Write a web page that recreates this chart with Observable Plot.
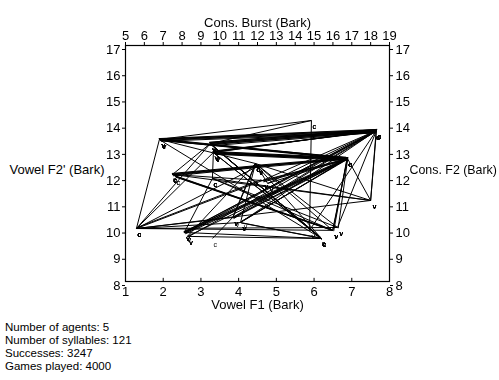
<!DOCTYPE html>
<html><head><meta charset="utf-8">
<script src="https://cdn.jsdelivr.net/npm/d3@7"></script>
<script src="https://cdn.jsdelivr.net/npm/@observablehq/plot@0.6"></script>
<style>
body{margin:0;background:#fff;font-family:"Liberation Sans",Arial,sans-serif;}
#cap{margin:6px 0 0 5px;font-size:11.5px;line-height:13px;color:#000}
#chart svg g[aria-label="text"]{opacity:0.99}
</style></head><body>
<div id="chart"></div>
<div id="cap"></div>
<script>
// Each syllable: vowel (F1, F2') and consonant (burst, F2), in Bark
const vowelF1 = [1.90,1.92,1.88,1.94,1.90,1.90,1.90,1.93,1.91,
  3.25,3.27,3.23,3.29,3.25,3.25,3.28,3.22,
  3.33,3.36,3.33,3.35,3.31,3.38,3.33,3.33,3.33,
  4.50,4.52,4.48,4.50,4.53,4.47,4.50,
  4.63,4.63,4.66,4.63,4.77,
  2.56,2.56,2.59,2.56,2.64,2.64,
  3.84,3.84,3.84,3.84,4.05,4.08,4.05,4.05,4.05,
  7.50,7.50,7.50,7.50,
  6.49,6.45,6.49,6.52,6.49,6.49,6.62,6.62,5.88,
  4.77,4.50,3.25,1.90,
  2.58,2.54,2.64,2.66,3.84,4.05,3.87,4.60,6.62,3.36,3.26,4.51,4.49,6.47,1.91,3.24,3.26,
  3.31,3.32,7.50,7.50,6.49,6.62,4.63,4.77,1.89,1.92,2.56,4.07,3.25,5.88,6.64,
  1.89,3.22,3.34,3.37,3.24,4.49,4.51,6.50,2.57,2.55,3.86,4.06,1.91,4.64,6.50,7.50,3.34,3.85];
const vowelF2 = [13.42,13.38,13.45,13.35,13.42,13.42,13.42,13.37,13.40,
  13.26,13.22,13.30,13.18,13.26,13.26,13.20,13.30,
  12.92,12.98,12.92,12.88,12.96,12.85,12.92,12.92,12.92,
  12.39,12.35,12.42,12.39,12.35,12.43,12.39,
  11.85,11.85,11.80,11.85,11.74,
  9.87,9.87,9.82,9.87,9.72,9.72,
  10.44,10.44,10.44,10.44,10.25,10.30,10.25,10.25,10.25,
  11.09,11.09,11.09,11.09,
  9.95,9.99,9.95,9.92,9.95,9.95,10.06,10.06,9.95,
  11.74,12.39,13.26,13.42,
  9.84,9.90,9.72,9.70,10.44,10.25,10.40,11.88,10.06,12.88,13.24,12.37,12.41,9.97,13.40,13.28,13.24,
  12.95,12.94,11.09,11.09,9.95,10.06,11.85,11.74,13.44,13.39,9.87,10.23,13.26,9.95,10.03,
  13.43,13.31,12.90,12.87,13.27,12.40,12.38,9.94,9.85,9.88,10.42,10.27,13.41,11.83,9.96,11.09,12.93,10.43];
const consBurst = [18.31,18.25,18.35,18.20,14.86,5.58,16.77,16.70,15.39,
  18.31,18.28,18.33,18.24,14.86,15.39,15.35,15.42,
  18.31,18.27,16.77,16.74,16.80,16.70,9.61,5.58,15.39,
  7.49,7.52,7.46,16.77,16.72,16.80,15.39,
  7.49,16.77,16.73,5.58,18.31,
  18.31,16.77,16.72,9.61,15.39,11.89,
  9.61,18.31,11.89,5.58,16.77,16.72,11.89,5.58,15.39,
  18.31,16.77,7.49,5.58,
  7.65,7.60,16.77,16.73,5.58,9.61,18.31,11.89,14.86,
  11.89,5.58,7.49,11.89,
  18.26,16.82,16.77,18.31,16.77,18.31,18.27,5.62,5.58,15.36,15.40,7.50,16.75,7.62,18.28,18.30,18.26,
  18.29,16.76,11.89,9.61,11.89,9.61,18.31,16.77,16.79,16.74,15.39,15.37,5.58,18.31,16.79,
  18.33,18.34,16.78,16.72,15.41,7.47,16.76,7.66,16.75,18.30,16.74,16.75,16.76,16.75,16.78,18.29,18.32,11.90];
const consF2 = [13.76,13.70,13.80,13.66,14.14,10.02,12.69,12.74,9.64,
  13.76,13.72,13.79,13.68,14.14,9.64,9.68,9.60,
  13.76,13.72,12.69,12.65,12.72,12.62,11.93,10.02,9.64,
  12.08,12.03,12.12,12.69,12.66,12.72,9.64,
  12.08,12.69,12.64,10.02,13.76,
  13.76,12.69,12.64,11.93,9.64,12.50,
  9.64,13.76,12.50,10.02,12.69,12.64,12.50,10.02,9.64,
  13.76,12.69,12.08,10.02,
  12.00,12.04,12.69,12.64,10.02,11.93,13.76,12.50,14.14,
  12.50,10.02,12.08,12.50,
  13.71,12.73,12.69,13.76,12.69,13.76,13.72,10.06,10.02,9.67,9.62,12.06,12.68,12.02,13.73,13.74,13.71,
  13.74,12.70,12.50,11.93,12.50,11.93,13.76,12.69,12.71,12.67,9.64,9.66,10.02,13.76,12.71,
  13.78,13.80,12.67,12.66,9.63,12.10,12.70,11.98,12.67,13.75,12.66,12.68,12.69,12.67,12.70,13.74,13.77,12.49];

const f1Ticks = [1,2,3,4,5,6,7,8];
const f2Ticks = [8,9,10,11,12,13,14,15,16,17];
const burstTicks = [5,6,7,8,9,10,11,12,13,14,15,16,17,18,19];
const captionLines = ["Number of agents: 5","Number of syllables: 121","Successes: 3247","Games played: 4000"];

const burstToF1 = d3.scaleLinear().domain([5,19]).range([1,8]);
const rows = vowelF1.map((_, i) => ({vx: vowelF1[i], vy: vowelF2[i], cx: burstToF1(consBurst[i]), cy: consF2[i]}));
// one marker per syllable end, snapped onto the first end point of its cluster
const snap = (arr, kx, ky) => {
  const first = new Map();
  return arr.map(r => {
    const k = Math.round(r[kx] * 8) + "," + Math.round(r[ky] * 6);
    if (!first.has(k)) first.set(k, {x: r[kx], y: r[ky]});
    return first.get(k);
  });
};
const vowelMarks = snap(rows, "vx", "vy");
const consMarks = snap(rows, "cx", "cy");
const font = "'Liberation Sans', Arial, sans-serif";

const plot = Plot.plot({
  width: 499, height: 315,
  marginLeft: 125, marginRight: 110, marginTop: 45, marginBottom: 34,
  x: {domain: [1, 8]},
  y: {domain: [8, 17]},
  style: {fontFamily: font, fontSize: "13px", color: "#000", background: "#fff", overflow: "visible"},
  marks: [
    Plot.link(rows, {x1: "vx", y1: "vy", x2: "cx", y2: "cy", stroke: "#000", strokeWidth: 1}),
    Plot.text(vowelMarks, {x: "x", y: "y", text: () => "v", dx: 2, dy: 6, fontSize: 7, textAnchor: "start", fill: "#000"}),
    Plot.text(consMarks, {x: "x", y: "y", text: () => "c", dx: 1, dy: 6, fontSize: 7, textAnchor: "start", fill: "#000"}),
    Plot.frame({stroke: "#000", strokeWidth: 1.2}),
    Plot.axisX(f1Ticks, {anchor: "bottom", tickSize: 0, tickPadding: 5, label: null, fontSize: 13}),
    Plot.ruleX(f1Ticks, {x: d => d, y1: 8, y2: 8.12, stroke: "#000"}),
    Plot.axisX(burstTicks.map(b => burstToF1(b)), {anchor: "top", tickSize: 4, tickPadding: 2, label: null, fontSize: 13,
      tickFormat: d => String(Math.round(burstToF1.invert(d)))}),
    Plot.axisY(f2Ticks, {anchor: "left", tickSize: 3, tickPadding: 2, dy: 4, label: null, fontSize: 13}),
    Plot.axisY(f2Ticks, {anchor: "right", tickSize: 3, tickPadding: 3, dy: 4, label: null, fontSize: 13}),
    Plot.text(["Cons. Burst (Bark)"], {text: d => d, frameAnchor: "top", dy: -28, fontSize: 13}),
    Plot.text(["Vowel F1 (Bark)"], {text: d => d, frameAnchor: "bottom", dy: 27, fontSize: 13}),
    Plot.text(["Vowel F2' (Bark)"], {text: d => d, frameAnchor: "left", dx: -21, dy: 6, textAnchor: "end", fontSize: 13}),
    Plot.text(["Cons. F2 (Bark)"], {text: d => d, frameAnchor: "right", dx: 20, dy: 7, textAnchor: "start", fontSize: 12.4})
  ]
});
document.getElementById("chart").appendChild(plot);
const cap = document.getElementById("cap");
captionLines.forEach(t => { const d = document.createElement("div"); d.textContent = t; cap.appendChild(d); });
</script>
</body></html>
